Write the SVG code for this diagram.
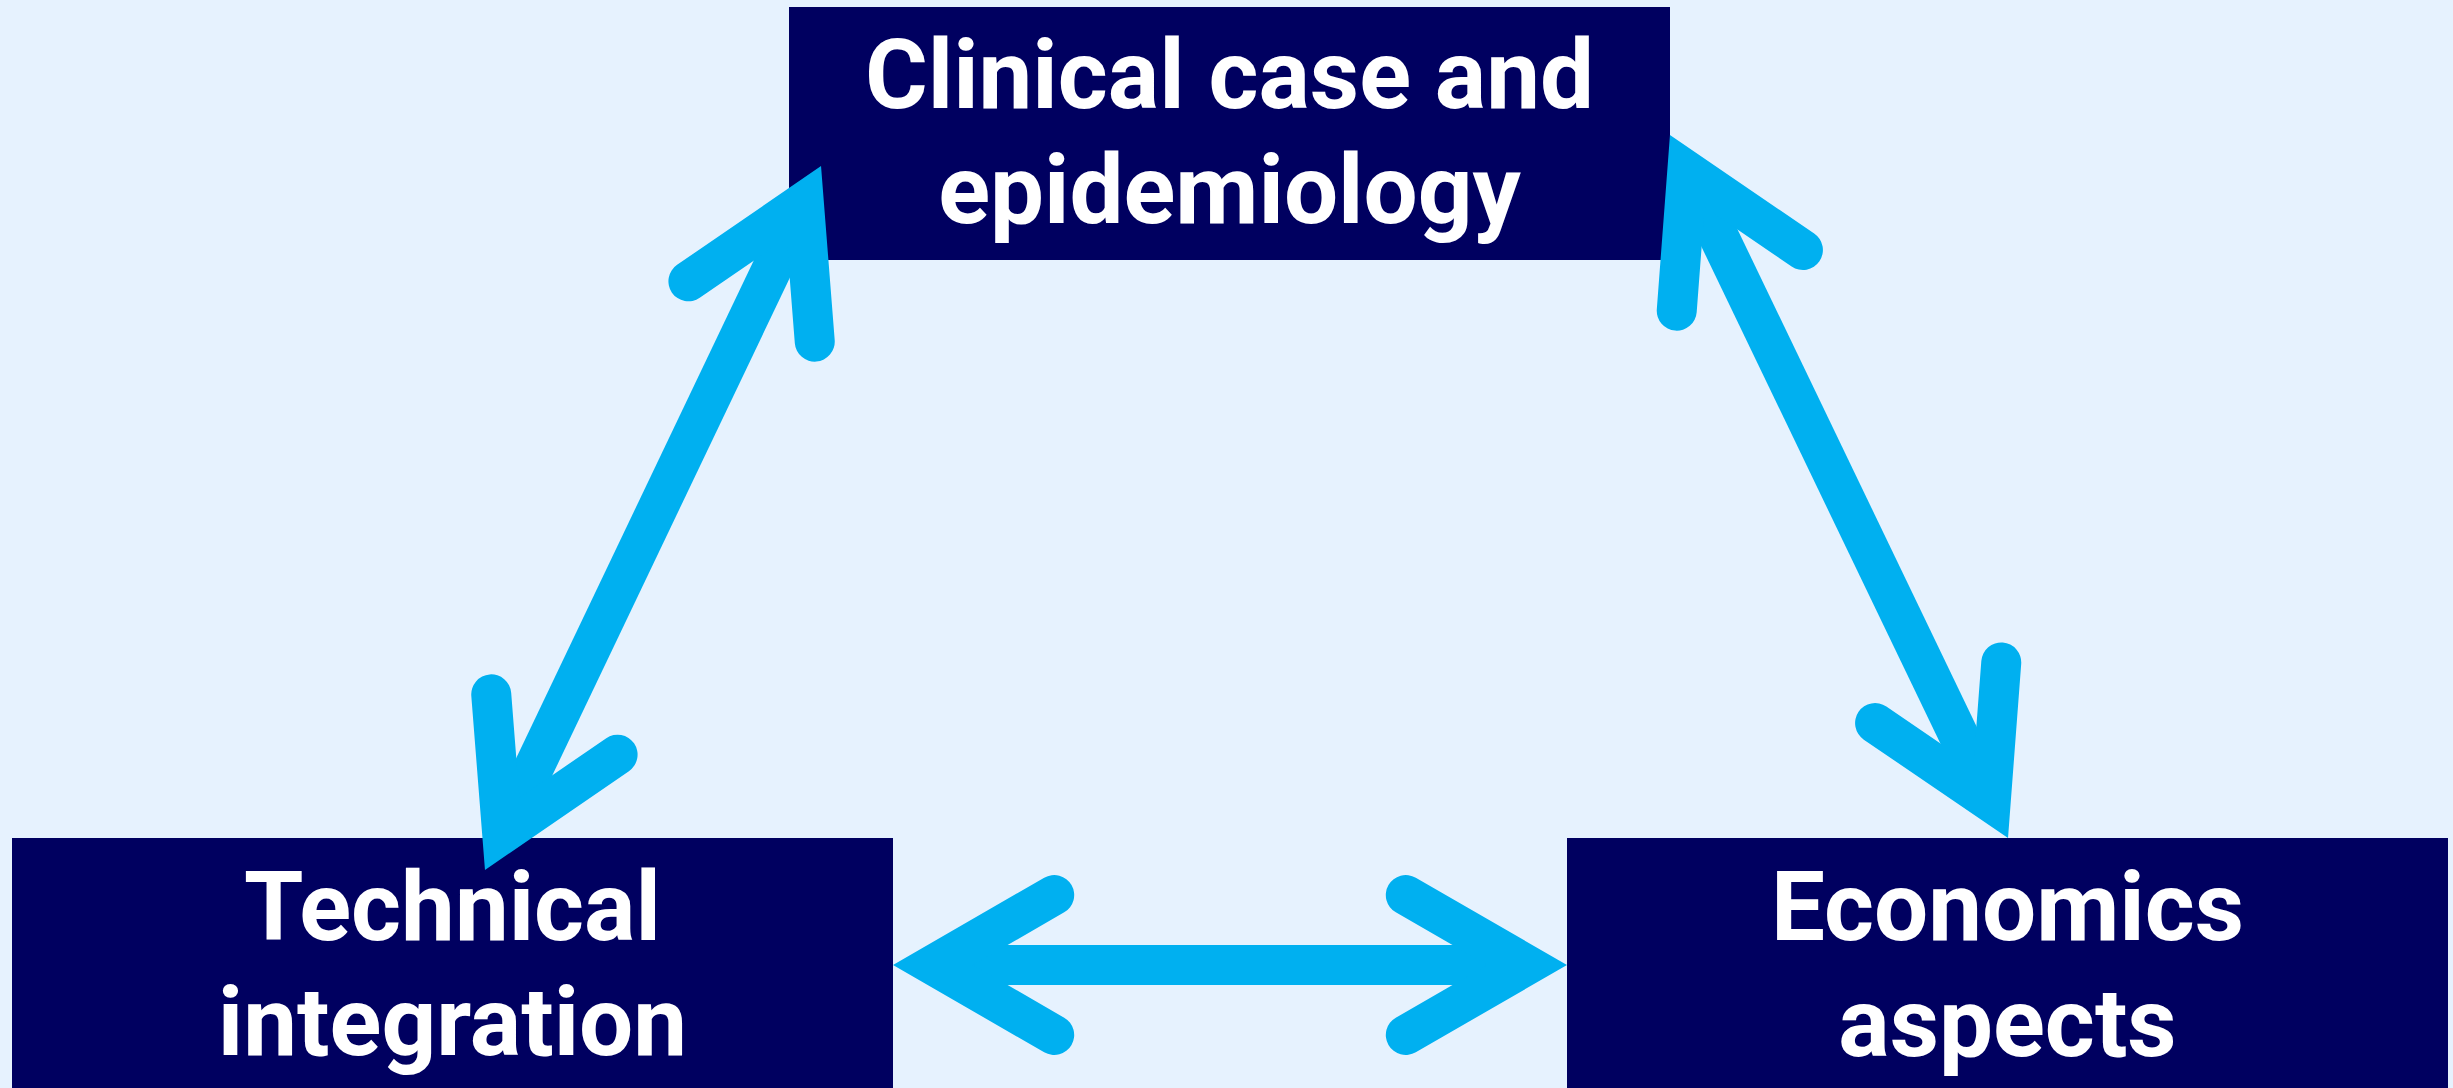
<svg xmlns="http://www.w3.org/2000/svg" width="2453" height="1088" viewBox="0 0 2453 1088">
  <style>
    .box { fill: #000060; }
    .label { fill: #ffffff; font-family: Roboto, "Liberation Sans", sans-serif; font-weight: 700; font-size: 96px; text-anchor: middle; }
    .shaft { stroke: #00B0F0; stroke-width: 40; fill: none; }
    .head { stroke: #00B0F0; stroke-width: 40; fill: none; stroke-linecap: round; stroke-linejoin: miter; stroke-miterlimit: 4; }
  </style>
  <defs>
    <!-- Open chevron heads; the line ends at the chevron vertex, the miter reaches the tip -->
    <marker id="head-end" markerUnits="userSpaceOnUse" viewBox="-200 -120 260 240" refX="0" refY="0" markerWidth="260" markerHeight="240" orient="auto" overflow="visible">
      <path class="head" d="M -121.2 -70 L 0 0 L -121.2 70"/>
    </marker>
    <marker id="head-start" markerUnits="userSpaceOnUse" viewBox="-60 -120 260 240" refX="0" refY="0" markerWidth="260" markerHeight="240" orient="auto" overflow="visible">
      <path class="head" d="M 121.2 -70 L 0 0 L 121.2 70"/>
    </marker>
  </defs>

  <rect x="0" y="0" width="2453" height="1088" fill="#E6F2FE"/>

  <g id="node-clinical">
    <rect class="box" x="789" y="7" width="881" height="253"/>
    <text class="label" x="1229.5" y="108">Clinical case and</text>
    <text class="label" x="1229.5" y="223">epidemiology</text>
  </g>

  <g id="node-technical">
    <rect class="box" x="12" y="838" width="881" height="260"/>
    <text class="label" x="452.5" y="940">Technical</text>
    <text class="label" x="452.5" y="1055">integration</text>
  </g>

  <g id="node-economics">
    <rect class="box" x="1567" y="838" width="881" height="260"/>
    <text class="label" x="2007.5" y="940">Economics</text>
    <text class="label" x="2007.5" y="1056">aspects</text>
  </g>

  <g id="connectors">
    <!-- clinical <-> technical -->
    <line class="shaft" x1="803.8" y1="202.1" x2="502.2" y2="833.9" marker-start="url(#head-start)" marker-end="url(#head-end)"/>
    <!-- clinical <-> economics -->
    <line class="shaft" x1="1687.3" y1="171.1" x2="1990.7" y2="802" marker-start="url(#head-start)" marker-end="url(#head-end)"/>
    <!-- technical <-> economics -->
    <line class="shaft" x1="933" y1="965" x2="1527" y2="965" marker-start="url(#head-start)" marker-end="url(#head-end)"/>
  </g>
</svg>
